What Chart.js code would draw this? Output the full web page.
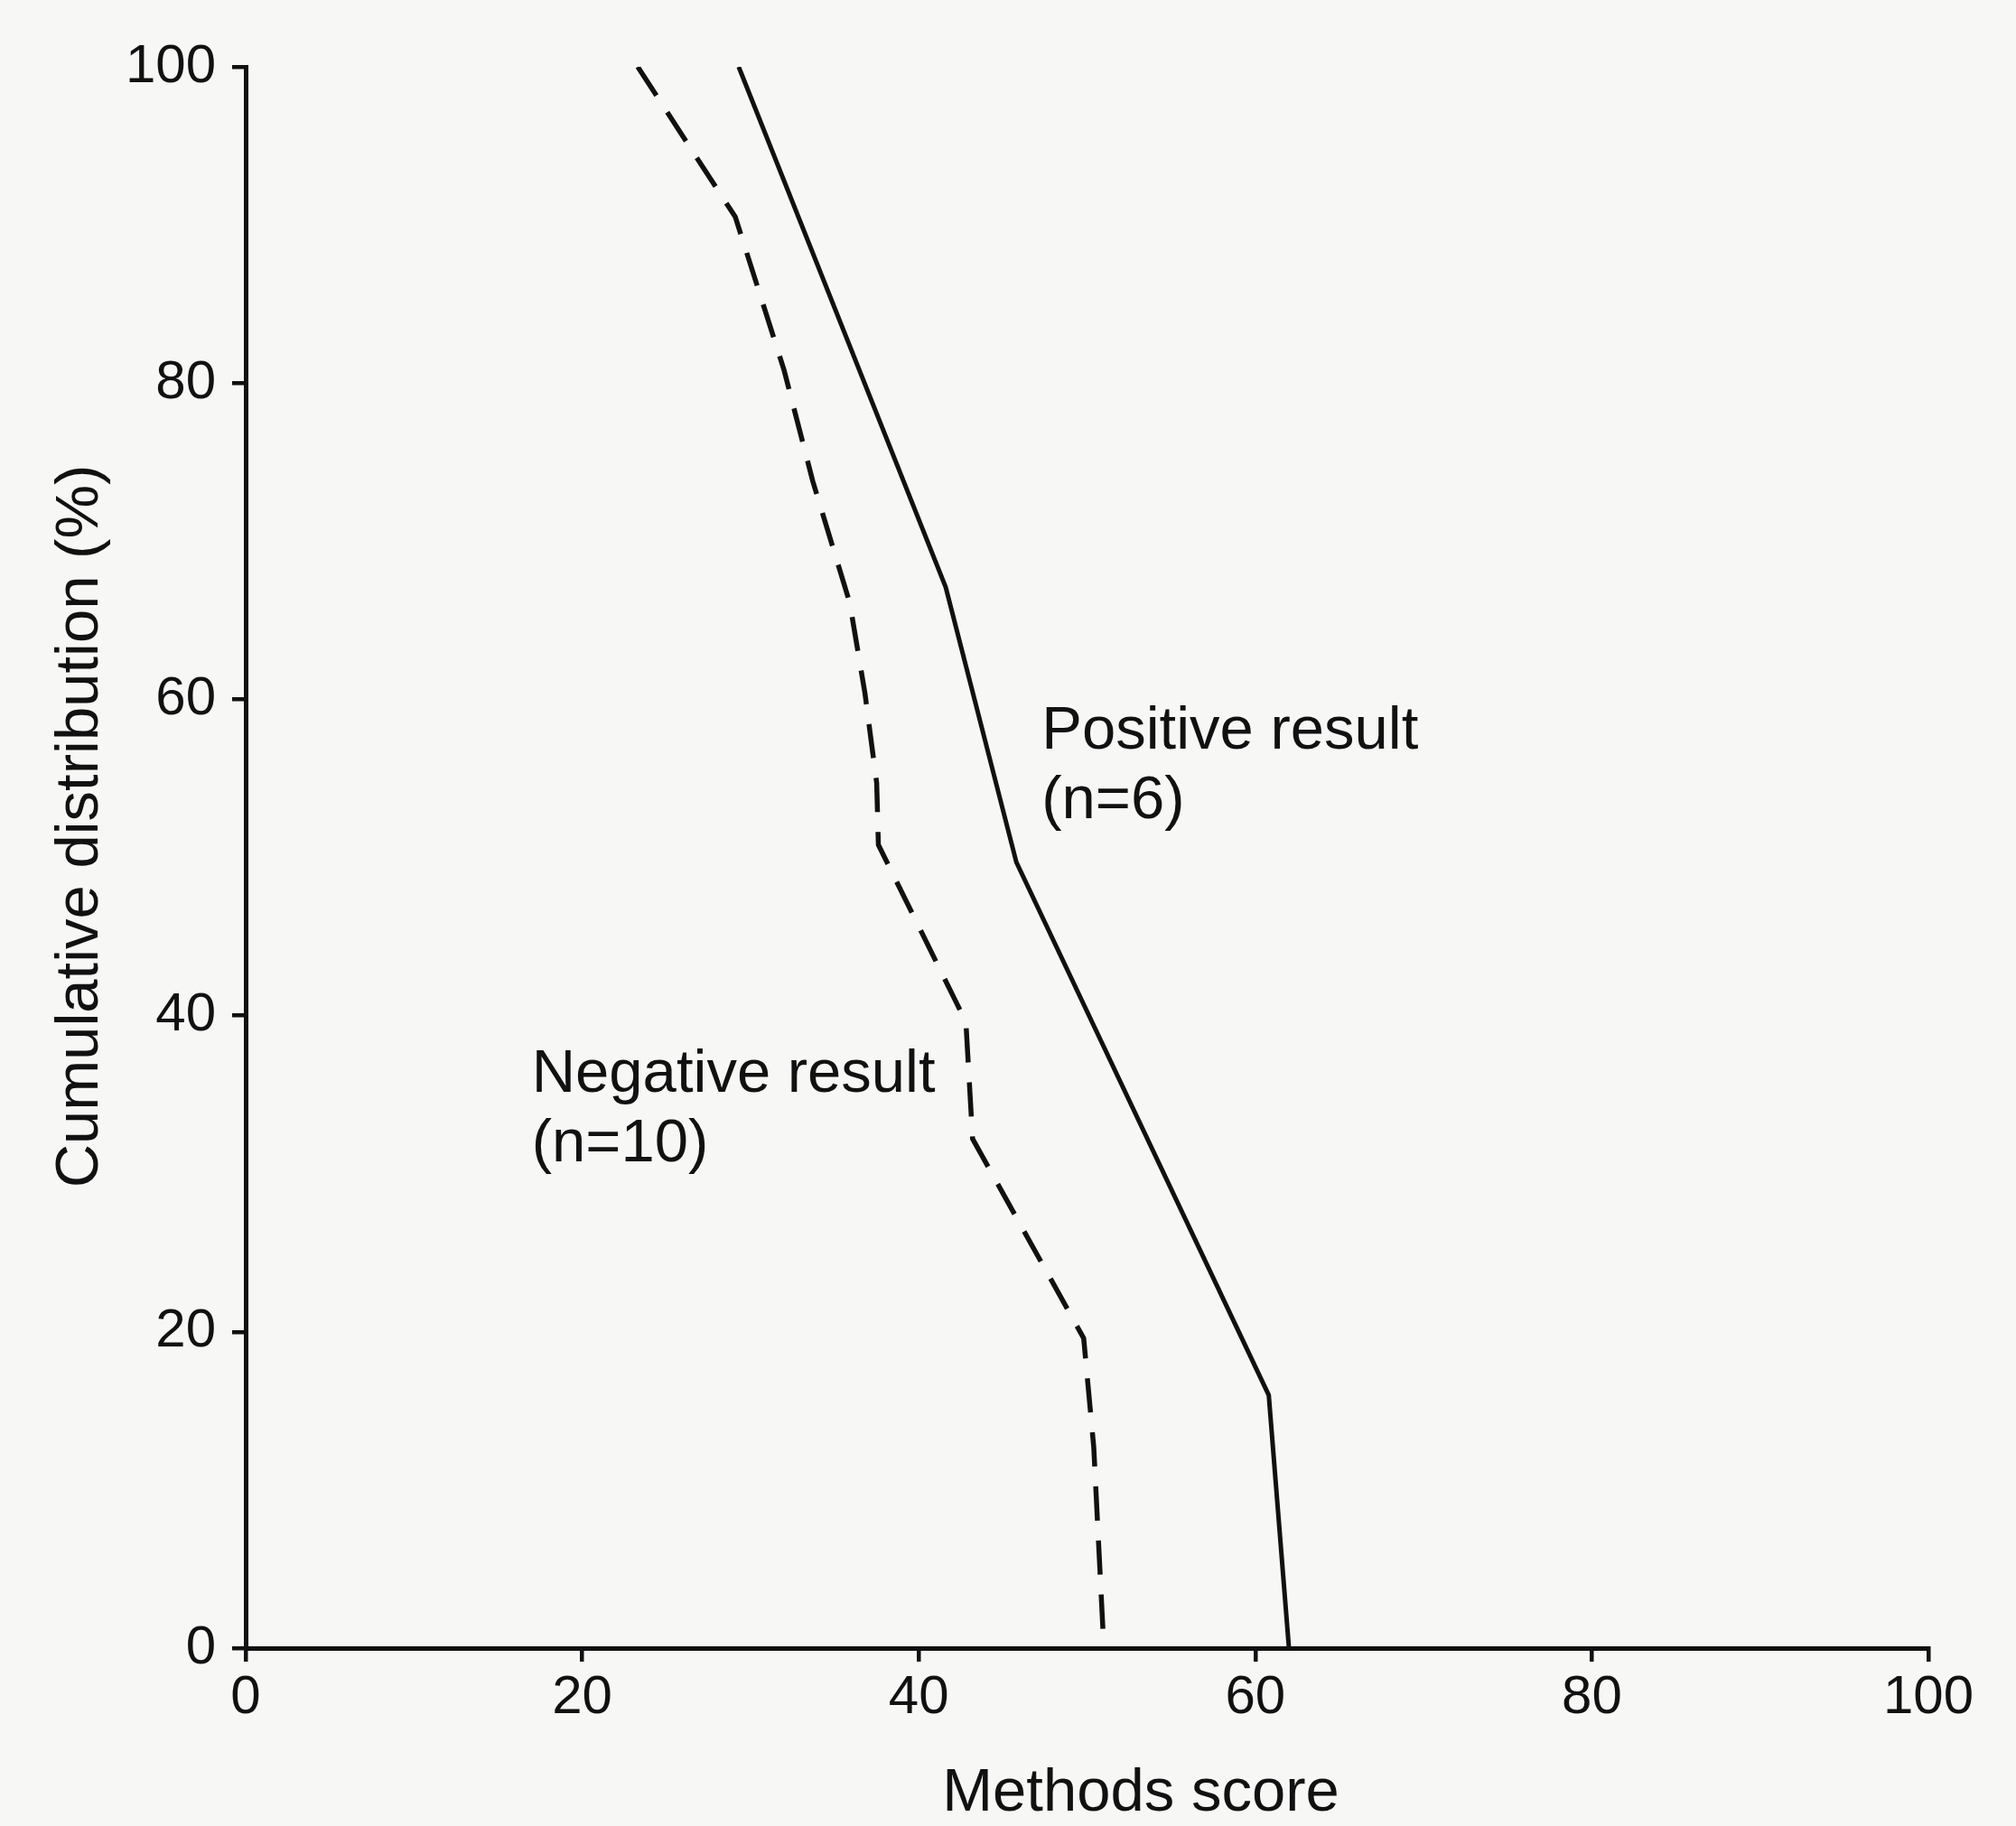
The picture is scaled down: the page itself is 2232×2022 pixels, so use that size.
<!DOCTYPE html>
<html>
<head>
<meta charset="utf-8">
<script src="https://cdn.jsdelivr.net/npm/chart.js@4.4.1/dist/chart.umd.min.js"></script>
<style>
  html, body { margin: 0; padding: 0; background: #f7f7f6; }
  #wrap { width: 2232px; height: 2022px; }
</style>
</head>
<body>
<div id="wrap"><canvas id="chart" width="2232" height="2022"></canvas></div>
<script>
// axis ticks
const scoreTicks = [0, 20, 40, 60, 80, 100];
const percentTicks = [0, 20, 40, 60, 80, 100];

// solid line: trials with a positive result
const positiveScores = [29.3, 41.6, 45.8, 60.8, 62.0];
const positivePercent = [100, 67.1, 49.7, 16.0, 0];

// dashed line: trials with a negative result
const negativeScores = [23.3, 29.1, 32.0, 33.7, 35.9, 36.8, 37.5, 37.6, 42.8, 43.2, 49.8, 50.4, 51.0];
const negativePercent = [100, 90.5, 80.8, 73.8, 66.1, 60.4, 54.7, 50.8, 39.6, 32.2, 19.6, 12.7, 0];

const seriesNames = ['Positive result', 'Negative result'];
const seriesCounts = ['(n=6)', '(n=10)'];
const xTitle = 'Methods score';
const yTitle = 'Cumulative distribution (%)';

const FONT = '"Liberation Sans", Arial, Helvetica, sans-serif';
const INK = '#111111';

const toPoints = (xs, ys) => xs.map((x, i) => ({ x, y: ys[i] }));

// background plus the free text (curve labels and axis titles)
const paperPlugin = {
  id: 'paper',
  beforeDraw(chart) {
    const ctx = chart.ctx;
    ctx.save();
    ctx.fillStyle = '#f7f7f6';
    ctx.fillRect(0, 0, chart.width, chart.height);
    ctx.restore();
  },
  afterDraw(chart) {
    const { ctx, scales: { x, y } } = chart;
    ctx.save();
    ctx.fillStyle = INK;
    ctx.font = `67px ${FONT}`;
    ctx.textBaseline = 'alphabetic';
    ctx.textAlign = 'left';

    // label anchors in data units (score, percent)
    const anchors = [[47.3, 56.9], [17.0, 35.2]];
    seriesNames.forEach((name, i) => {
      const px = x.getPixelForValue(anchors[i][0]);
      const py = y.getPixelForValue(anchors[i][1]);
      ctx.fillText(name, px, py);
      ctx.fillText(seriesCounts[i], px, py + 77);
    });

    ctx.textAlign = 'center';
    ctx.fillText(xTitle, 1263, 2005);

    ctx.translate(108, 915);
    ctx.rotate(-Math.PI / 2);
    ctx.fillText(yTitle, 0, 0);
    ctx.restore();
  }
};

const axisStyle = (ticks) => ({
  type: 'linear',
  min: 0,
  max: 100,
  afterBuildTicks: (scale) => { scale.ticks = ticks.map(v => ({ value: v })); },
  grid: {
    display: true,
    drawOnChartArea: false,
    drawTicks: true,
    tickLength: 15,
    lineWidth: 4.5,
    color: INK
  },
  border: { display: true, width: 5, color: INK },
  ticks: {
    color: INK,
    font: { family: FONT, size: 60 },
    maxRotation: 0,
    autoSkip: false
  }
});

const xAxis = axisStyle(scoreTicks);
xAxis.ticks.padding = 4;
xAxis.afterFit = (scale) => { scale.height = 197; };

const yAxis = axisStyle(percentTicks);
yAxis.ticks.padding = 18;
yAxis.afterFit = (scale) => { scale.width = 272; };

new Chart(document.getElementById('chart'), {
  type: 'scatter',
  data: {
    datasets: [
      {
        label: seriesNames[0],
        data: toPoints(positiveScores, positivePercent),
        showLine: true,
        borderColor: INK,
        borderWidth: 5,
        pointRadius: 0,
        tension: 0,
        borderJoinStyle: 'round'
      },
      {
        label: seriesNames[1],
        data: toPoints(negativeScores, negativePercent),
        showLine: true,
        borderColor: INK,
        borderWidth: 5.5,
        borderDash: [38, 22],
        pointRadius: 0,
        tension: 0,
        borderJoinStyle: 'round'
      }
    ]
  },
  options: {
    responsive: false,
    animation: false,
    devicePixelRatio: 1,
    layout: { padding: { top: 74, right: 97, bottom: 0, left: 0 } },
    plugins: {
      legend: { display: false },
      tooltip: { enabled: false }
    },
    scales: { x: xAxis, y: yAxis }
  },
  plugins: [paperPlugin]
});
</script>
</body>
</html>
